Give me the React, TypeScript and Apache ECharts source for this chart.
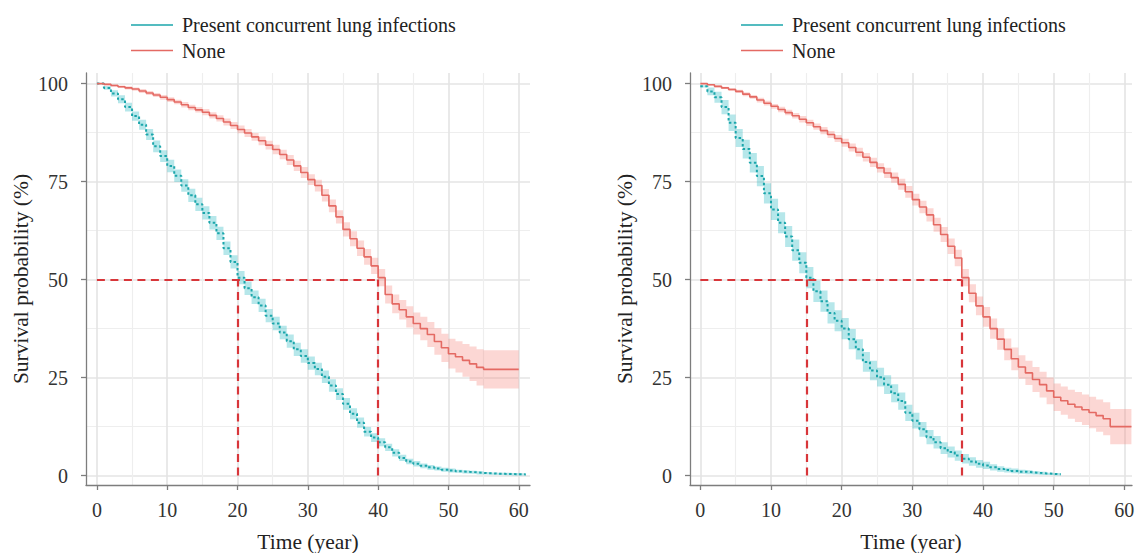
import React, { useEffect, useRef } from 'react';
import * as echarts from 'echarts';

// ---- data (values read at each whole year, x = year index) ----
const leftTeal = [
  100, 98.9, 97.5, 96.0, 94.0, 91.7, 89.5, 87.0, 84.0, 81.5,
  79.0, 76.5, 74.0, 71.5, 69.2, 67.0, 64.5, 61.8, 58.0, 54.5,
  50.5, 47.8, 45.5, 43.4, 40.8, 38.8, 36.5, 34.3, 32.2, 30.5,
  28.7, 27.2, 25.2, 23.0, 20.8, 18.3, 15.8, 13.5, 11.2, 9.7,
  8.5, 7.2, 5.8, 4.5, 3.6, 3.0, 2.5, 2.1, 1.8, 1.5,
  1.3, 1.1, 0.95, 0.85, 0.7, 0.6, 0.5, 0.45, 0.4, 0.35, 0.3, 0.3,
];
const leftTealCI = [
  0, 0.5, 0.8, 1.0, 1.1, 1.2, 1.3, 1.4, 1.5, 1.5,
  1.6, 1.6, 1.6, 1.7, 1.7, 1.7, 1.7, 1.7, 1.7, 1.7,
  1.7, 1.7, 1.7, 1.7, 1.7, 1.7, 1.7, 1.7, 1.7, 1.7,
  1.7, 1.6, 1.6, 1.6, 1.5, 1.5, 1.4, 1.3, 1.2, 1.1,
  1.0, 0.9, 0.9, 0.8, 0.7, 0.7, 0.6, 0.6, 0.5, 0.5,
  0.5, 0.4, 0.4, 0.4, 0.4, 0.3, 0.3, 0.3, 0.3, 0.3, 0.3, 0.3,
];
const leftRed = [
  100, 99.8, 99.5, 99.2, 98.9, 98.6, 98.1, 97.6, 97.1, 96.5,
  95.9, 95.3, 94.6, 93.9, 93.3, 92.7, 91.9, 91.1, 90.2, 89.3,
  88.3, 87.4, 86.4, 85.4, 84.3, 83.2, 81.9, 80.5, 79.0, 77.3,
  75.5, 74.0, 71.5, 68.8, 66.0, 62.8, 60.4, 58.0, 55.8, 53.5,
  50.5, 46.2, 43.8, 42.3, 40.5, 38.8, 37.5, 36.0, 34.2, 32.6,
  31.1, 30.3, 29.4, 28.5, 27.6, 27.1, 27.1, 27.1, 27.1, 27.1, 27.1,
];
const leftRedCI = [
  0, 0.2, 0.3, 0.3, 0.4, 0.4, 0.5, 0.5, 0.5, 0.6,
  0.6, 0.6, 0.7, 0.7, 0.7, 0.8, 0.8, 0.8, 0.9, 0.9,
  1.0, 1.0, 1.0, 1.1, 1.1, 1.2, 1.2, 1.3, 1.3, 1.4,
  1.4, 1.5, 1.6, 1.6, 1.7, 1.8, 1.9, 2.0, 2.0, 2.1,
  2.2, 2.3, 2.4, 2.5, 2.7, 2.8, 3.0, 3.2, 3.4, 3.6,
  3.8, 4.0, 4.2, 4.4, 4.6, 4.9, 4.9, 4.9, 4.9, 4.9, 4.9,
];
const rightTeal = [
  99.3, 98.0, 96.5, 94.0, 90.0, 86.1, 83.3, 79.8, 76.4, 72.0,
  67.9, 64.5, 61.0, 57.5, 54.3, 50.5, 47.0, 44.5, 41.5, 39.5,
  37.5, 34.8, 32.2, 29.0, 26.8, 25.1, 23.2, 21.0, 19.0, 16.0,
  14.0, 11.8, 9.8, 8.5, 7.0, 6.0, 5.1, 4.3, 3.6, 3.0,
  2.6, 2.1, 1.7, 1.4, 1.2, 1.0, 0.85, 0.7, 0.55, 0.45, 0.35, 0.3,
];
const rightTealCI = [
  0.3, 1.0, 1.4, 1.8, 2.1, 2.3, 2.4, 2.5, 2.6, 2.6,
  2.7, 2.7, 2.7, 2.7, 2.7, 2.7, 2.7, 2.7, 2.7, 2.7,
  2.7, 2.6, 2.6, 2.5, 2.5, 2.4, 2.4, 2.3, 2.2, 2.1,
  2.0, 1.9, 1.8, 1.6, 1.5, 1.4, 1.3, 1.2, 1.1, 1.0,
  0.9, 0.8, 0.7, 0.6, 0.6, 0.5, 0.5, 0.4, 0.4, 0.3, 0.3, 0.3,
];
const rightRed = [
  100, 99.7, 99.3, 98.9, 98.5, 98.0, 97.3, 96.6, 95.8, 95.0,
  94.2, 93.4, 92.6, 91.8, 90.9, 90.0, 89.0, 88.0, 87.0, 86.0,
  84.9, 83.7, 82.5, 81.2, 79.9, 78.5, 77.2, 76.0, 74.3, 72.4,
  70.4, 68.5, 66.5, 64.0, 61.5, 58.5, 55.5, 50.5, 46.5, 43.3,
  40.5, 37.5, 34.8, 32.2, 29.8, 27.7, 26.2, 24.5, 23.2, 21.6,
  20.0, 19.1, 18.2, 17.5, 16.8, 16.1, 15.3, 14.5, 12.5, 12.5, 12.5, 12.5,
];
const rightRedCI = [
  0, 0.2, 0.3, 0.3, 0.4, 0.4, 0.5, 0.5, 0.6, 0.6,
  0.6, 0.7, 0.7, 0.7, 0.8, 0.8, 0.8, 0.9, 0.9, 0.9,
  1.0, 1.0, 1.1, 1.1, 1.2, 1.2, 1.3, 1.3, 1.4, 1.5,
  1.5, 1.6, 1.7, 1.8, 1.9, 2.0, 2.1, 2.2, 2.3, 2.4,
  2.5, 2.6, 2.7, 2.8, 2.9, 3.0, 3.1, 3.2, 3.3, 3.4,
  3.5, 3.6, 3.7, 3.8, 3.9, 4.0, 4.1, 4.2, 4.5, 4.5, 4.5, 4.5,
];
const leftMedians = [20, 40];
const rightMedians = [15, 37];

const xMajorTicks = [0, 10, 20, 30, 40, 50, 60];
const xMinorTicks = [5, 15, 25, 35, 45, 55];
const yMajorTicks = [0, 25, 50, 75, 100];
const yMinorTicks = [12.5, 37.5, 62.5, 87.5];

const NAME_TEAL = 'Present concurrent lung infections';
const NAME_RED = 'None';

const TEAL = '#1BA6AB';
const TEAL_BAND = 'rgba(40,185,192,0.34)';
const RED = '#E46A63';
const RED_BAND = 'rgba(246,130,122,0.32)';
const MEDIAN = '#D8363A';
const FONT = "'Liberation Serif', 'Times New Roman', serif";
const AXIS = '#7d7d7d';

function bandSeries(g: number, vals: number[], ci: number[], color: string) {
  return {
    type: 'custom',
    coordinateSystem: 'cartesian2d',
    xAxisIndex: g * 2,
    yAxisIndex: g * 2,
    silent: true,
    z: 1,
    data: [[0, vals[0]]],
    renderItem: (params: any, api: any) => {
      const n = vals.length;
      const hi = (i: number) => Math.min(100, vals[i] + ci[i]);
      const lo = (i: number) => Math.max(0, vals[i] - ci[i]);
      const pts: number[][] = [];
      for (let i = 0; i < n - 1; i++) {
        pts.push(api.coord([i, hi(i)]));
        pts.push(api.coord([i + 1, hi(i)]));
      }
      pts.push(api.coord([n - 1, hi(n - 1)]));
      pts.push(api.coord([n - 1, lo(n - 1)]));
      for (let i = n - 2; i >= 0; i--) {
        pts.push(api.coord([i + 1, lo(i)]));
        pts.push(api.coord([i, lo(i)]));
      }
      return { type: 'polygon', shape: { points: pts }, style: { fill: color, stroke: 'none' } };
    },
  };
}

function buildPanel(g: number, teal: number[], tealCI: number[], red: number[], redCI: number[], medians: number[]) {
  const xi = g * 2;
  const yi = g * 2;
  const common = { type: 'line', xAxisIndex: xi, yAxisIndex: yi, step: 'end', symbol: 'none', silent: true };
  const mMax = Math.max(...medians);
  const markData: any[] = [[{ coord: [0, 50] }, { coord: [mMax, 50] }]];
  medians.forEach((m) => markData.push([{ coord: [m, 0] }, { coord: [m, 50] }]));
  return [
    bandSeries(g, teal, tealCI, TEAL_BAND),
    bandSeries(g, red, redCI, RED_BAND),
    { ...common, name: NAME_TEAL, data: teal.map((y, i) => [i, y]), itemStyle: { color: TEAL }, lineStyle: { color: TEAL, width: 2, type: [2.5, 2.5] }, z: 3 },
    {
      ...common, name: NAME_RED, data: red.map((y, i) => [i, y]), itemStyle: { color: RED }, lineStyle: { color: RED, width: 1.6 }, z: 3,
      markLine: {
        silent: true, symbol: ['none', 'none'], label: { show: false },
        lineStyle: { color: MEDIAN, width: 2.2, type: [8, 5.5] },
        data: markData,
      },
    },
  ];
}

function buildAxes(g: number, xMin: number, xMax: number) {
  const baseX = { type: 'value', gridIndex: g, min: xMin, max: xMax, position: 'bottom' };
  const baseY = { type: 'value', gridIndex: g, min: -2.4, max: 102.7, position: 'left' };
  const xAxes = [
    {
      ...baseX,
      axisLine: { show: true, onZero: false, lineStyle: { color: AXIS, width: 1.3 } },
      axisTick: { show: true, length: 5, customValues: xMajorTicks, lineStyle: { color: AXIS, width: 1.3 } },
      axisLabel: { customValues: xMajorTicks, margin: 15, fontSize: 20, color: '#333', fontFamily: FONT },
      splitLine: { show: true, lineStyle: { color: '#E4E4E4', width: 1.6 } },
      name: 'Time (year)', nameLocation: 'middle', nameGap: 46,
      nameTextStyle: { fontSize: 21.5, color: '#222', fontFamily: FONT },
    },
    {
      ...baseX,
      axisLine: { show: false, onZero: false },
      axisTick: { show: false, customValues: xMinorTicks },
      axisLabel: { show: false },
      splitLine: { show: true, lineStyle: { color: '#EEEEEE', width: 1.2 } },
    },
  ];
  const yAxes = [
    {
      ...baseY,
      axisLine: { show: true, onZero: false, lineStyle: { color: AXIS, width: 1.3 } },
      axisTick: { show: true, length: 5, customValues: yMajorTicks, lineStyle: { color: AXIS, width: 1.3 } },
      axisLabel: { customValues: yMajorTicks, margin: 18, fontSize: 20, color: '#333', fontFamily: FONT },
      splitLine: { show: true, lineStyle: { color: '#E4E4E4', width: 1.6 } },
      name: 'Survival probability (%)', nameLocation: 'middle', nameGap: 54, nameRotate: 90,
      nameTextStyle: { fontSize: 21.5, color: '#222', fontFamily: FONT },
    },
    {
      ...baseY,
      axisLine: { show: false, onZero: false },
      axisTick: { show: false, customValues: yMinorTicks },
      axisLabel: { show: false },
      splitLine: { show: true, lineStyle: { color: '#EEEEEE', width: 1.2 } },
    },
  ];
  return { xAxes, yAxes };
}

export default function App() {
  const ref = useRef<HTMLDivElement>(null);
  useEffect(() => {
    if (!ref.current) return;
    const chart = echarts.init(ref.current, undefined, { renderer: 'svg' });
    const a0 = buildAxes(0, -1.55, 61.6);
    const a1 = buildAxes(1, -1.46, 61.08);
    const legendBase = {
      orient: 'vertical', top: 15, padding: 0, itemWidth: 42, itemHeight: 1.6, itemGap: 5.5, icon: 'rect',
      data: [NAME_TEAL, NAME_RED],
      textStyle: { fontSize: 20, color: '#222', fontFamily: FONT, padding: [0, 0, 0, 4] },
    };
    chart.setOption({
      animation: false,
      textStyle: { fontFamily: FONT },
      legend: [
        { ...legendBase, left: 131 },
        { ...legendBase, left: 741 },
      ],
      grid: [
        { left: 86, top: 73, width: 444, height: 412, outerBoundsMode: 'none', containLabel: false },
        { left: 690, top: 73, width: 442, height: 412, outerBoundsMode: 'none', containLabel: false },
      ],
      xAxis: [...a0.xAxes, ...a1.xAxes],
      yAxis: [...a0.yAxes, ...a1.yAxes],
      series: [
        ...buildPanel(0, leftTeal, leftTealCI, leftRed, leftRedCI, leftMedians),
        ...buildPanel(1, rightTeal, rightTealCI, rightRed, rightRedCI, rightMedians),
      ],
    });
    return () => chart.dispose();
  }, []);
  return <div ref={ref} style={{ position: 'absolute', left: 0, top: 0, width: 1135, height: 553 }} />;
}
